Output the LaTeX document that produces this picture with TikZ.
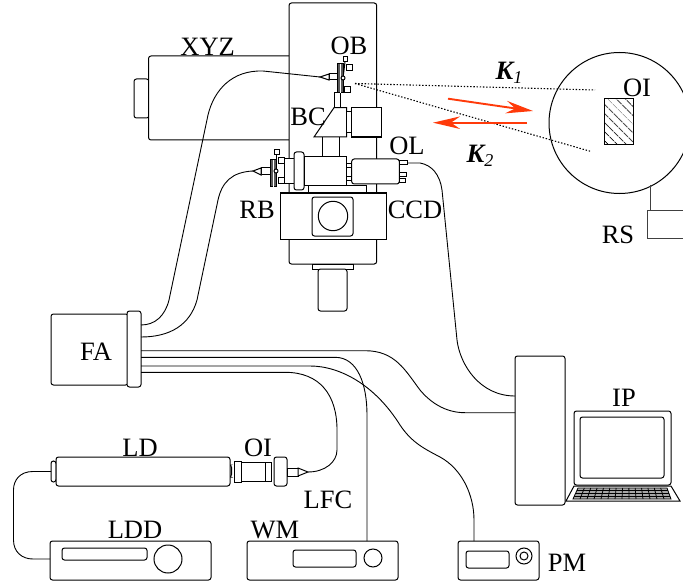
\documentclass[tikz,border=0pt]{standalone}
\usepackage{fontspec}
\setmainfont{Liberation Serif}
\usetikzlibrary{arrows.meta,patterns.meta,calc}
\tikzset{
  part/.style={draw=black,fill=white,line width=1pt,inner sep=0pt,outer sep=0pt,rounded corners=2.5pt},
  sharp/.style={rounded corners=0pt},
  fibre/.style={draw=black,line width=0.9pt},
  lab/.style={font=\fontsize{26.5}{26.5}\selectfont,inner sep=0pt,text=black},
  klab/.style={font=\fontsize{26.5}{26.5}\selectfont\bfseries\itshape,inner sep=0pt,text=black},
  ray/.style={draw=black,line width=1.1pt,dash pattern=on 1.4pt off 1.8pt},
  redarrow/.style={draw=beamred,line width=1.9pt,-{Stealth[length=27pt,width=12.5pt,inset=9pt]}},
}
\definecolor{beamred}{HTML}{FF3A0A}
\newcommand\bx[6][]{%
  \pgfmathsetmacro\bxCx{(#3+#5)/2}\pgfmathsetmacro\bxCy{(#4+#6)/2}%
  \pgfmathsetmacro\bxW{abs(#5-(#3))}\pgfmathsetmacro\bxH{abs(#6-(#4))}%
  \node[part,minimum width=\bxW pt,minimum height=\bxH pt,#1] (#2) at (\bxCx,\bxCy) {};}
\begin{document}
\begin{tikzpicture}[x=1pt,y=-1pt]
\clip (0,0) rectangle (683,583);
\fill[white] (0,0) rectangle (683,583);

% microscope body
\bx{knob}{134}{79}{149}{118}
\bx{xyz}{148.5}{56}{295}{140}
\bx{column}{289}{3}{376.7}{264}
\bx[sharp]{foot}{312}{264}{353}{269}
\bx{tube}{318}{269}{347}{311}

% beam splitter cube and camera
\draw[line width=1pt] (322,137) -- (322,157) (339,137) -- (339,157);
\bx[sharp]{stem}{334.5}{93}{340.5}{108}
\filldraw[part,sharp] (314,137) -- (334,107.7) -- (346.7,107.7) -- (346.7,137) -- cycle;
\bx[sharp]{neck}{346.7}{112}{351.7}{133}
\bx[sharp,line width=1.3pt]{cam}{351.7}{107.7}{381.7}{137}

% input assembly
\bx[sharp]{strip}{308}{186}{366}{193}
\bx[sharp]{rbtube}{284}{159}{294}{184}
\bx{rbflange}{294}{152}{304}{190}
\bx[sharp]{rbbody}{304}{156.7}{346.7}{186}
\bx[sharp]{lnka}{346.7}{164}{351.7}{168}
\bx[sharp]{lnkb}{346.7}{177}{351.7}{181}
\bx{ol}{351.7}{159}{399.3}{184}
\bx[sharp]{ola}{399.3}{160.7}{407}{165}
\bx[sharp]{olb}{399.3}{172.7}{406}{177}
\bx[sharp]{olc}{399.3}{178.5}{405}{183}
\bx[sharp]{ccd}{280}{193}{386}{239}
\bx{ccdin}{312}{197}{353}{236}
\node[part,sharp,circle,minimum size=29.4pt] (lens) at (333,216) {};

% mount at RB
\bx[sharp]{rbta}{274}{150}{279}{155}
\draw[line width=1pt] (276.5,155) -- (276.5,171);
\bx[sharp]{rbqa}{278}{158}{284}{164}
\bx[sharp]{rbqb}{278}{178}{284}{184}
\bx[sharp]{rbcon}{261}{168}{270}{175}
\filldraw[part,sharp] (261,168) -- (253,171) -- (261,175) -- cycle;
\bx[sharp,fill=black!65]{rbdisk}{270}{160}{276}{187}
\draw[line width=0.7pt,white] (273,160) -- (273,187);
\node[part,sharp,circle,minimum size=4pt] (rbpin) at (276,171) {};

% mount at OB
\bx[sharp]{obta}{343}{57}{347}{62}
\draw[line width=1pt] (345,62) -- (343,78);
\bx[sharp]{obqa}{346}{65}{352}{71}
\bx[sharp]{obqb}{344}{87}{350}{93}
\bx[sharp]{obcon}{329}{74}{337}{80}
\bx[sharp,fill=black!65]{obdisk}{337}{64}{343}{93}
\draw[line width=0.7pt,white] (340,64) -- (340,93);
\node[part,sharp,circle,minimum size=4pt] (obpin) at (343,78) {};
\filldraw[part,sharp] (329,74) -- (320,77) -- (329,80) -- cycle;

% fibre array
\bx{fa}{51}{314}{128}{385}
\bx{facol}{127}{311}{141}{387}
\coordinate (f1) at (141,325);
\coordinate (f2) at (141,337);
\coordinate (f3) at (141,350.7);
\coordinate (f4) at (141,357.3);
\coordinate (f5) at (141,366);
\coordinate (f6) at (141,372.3);
\coordinate (obtip) at (320,77);
\coordinate (rbtip) at (253,171);

% bench
\bx{ldcapl}{51}{461}{56}{482}
\bx{ldcapr}{228}{465}{231.5}{477}
\bx{ld}{56}{457}{230}{486}
\bx[sharp]{oia}{234}{461}{241}{482}
\bx[sharp]{oib}{241}{462}{271}{481}
\draw[line width=1pt] (265,462) -- (265,481);
\bx{lfcf}{274}{457}{287}{486}
\bx[sharp]{lfcr}{287}{468}{298}{476}
\filldraw[part,sharp] (298,468) -- (308,472) -- (298,476) -- cycle;
\coordinate (lfctip) at (308,472);

\bx{ldd}{50}{541}{211}{580}
\bx{lddslot}{62}{548}{147}{560}
\node[part,sharp,circle,minimum size=28pt] (lddknob) at (168,559) {};
\bx{wm}{247}{541}{398}{580}
\bx{wmslot}{293}{550}{356}{567}
\node[part,sharp,circle,minimum size=18pt] (wmknob) at (373,558) {};
\bx{pm}{458}{541}{539}{580}
\bx{pmslot}{466}{551}{509}{568}
\node[part,sharp,circle,minimum size=16pt] (pmo) at (524,556) {};
\node[part,sharp,circle,minimum size=8pt] (pmi) at (524,556) {};

% computer
\bx{pc}{515}{356}{565}{505}
\filldraw[part,sharp] (574,486) -- (566,501) -- (680,501) -- (671,486) -- cycle;
\filldraw[draw=black,fill=black!35,line width=0.8pt] (578,488) -- (667,488) -- (671,499) -- (573,499) -- cycle;
\foreach \i in {1,...,3}{
  \pgfmathsetmacro\yy{488+\i*2.75}
  \pgfmathsetmacro\xa{578-5*\i*2.75/11}
  \pgfmathsetmacro\xb{667+4*\i*2.75/11}
  \draw[line width=0.6pt] (\xa,\yy) -- (\xb,\yy);}
\foreach \i in {1,...,13}{
  \pgfmathsetmacro\xa{578+\i*89/14}
  \pgfmathsetmacro\xb{573+\i*98/14}
  \draw[line width=0.8pt] (\xa,488) -- (\xb,499);}
\bx{lap}{574}{411}{671}{485}
\bx{screen}{580}{417}{664}{478}

% object
\node[draw=black,fill=white,line width=1pt,circle,inner sep=0pt,minimum size=141pt] (obj) at (619.5,123) {};
\node[draw=black,line width=1pt,inner sep=0pt,minimum width=29pt,minimum height=46pt,
  pattern={Lines[angle=-45,distance=6.5pt,line width=1pt]}] (oirect) at (619.2,122) {};
\draw[line width=1pt,black!75] (650,185) -- (650,210);
\node[draw=black!75,fill=white,line width=1pt,inner sep=0pt,minimum width=50pt,minimum height=28pt,anchor=north west] (rs) at (647.3,210) {};

% fibres
\draw[fibre] (obtip) -- (263,71) .. controls (232,70) and (214,90) .. (208,115) -- (169,300) .. controls (165,316) and (155,325) .. (f1);
\draw[fibre] (rbtip) .. controls (232,172) and (222,182) .. (218,200) -- (197,300) .. controls (190,325) and (170,337) .. (f2);
\draw[fibre] (f3) -- (365,350.7) .. controls (395,350.7) and (405,370) .. (420,390) .. controls (430,402) and (445,412.7) .. (465,412.7) -- (pc.west |- 0,412.7);
\draw[fibre] (f4) -- (335,357.3) .. controls (358,357.3) and (367,385) .. (367,415) -- (367,541);
\draw[fibre] (f5) -- (310,366) .. controls (340,366) and (375,385) .. (400,425) .. controls (412,443) and (425,449) .. (440,457) .. controls (462,469) and (474,495) .. (474,520) -- (474,541);
\draw[fibre] (f6) -- (285,372.3) .. controls (320,372.3) and (337,395) .. (337,430) -- (337,450) .. controls (337,462) and (325,472) .. (lfctip);
\draw[fibre] (407,163) -- (420,163) .. controls (432,165) and (440,175) .. (442,190) -- (457,340) .. controls (460,365) and (480,396) .. (pc.west |- 0,396);
\draw[fibre] (ldcapl.west) -- (33,471.5) .. controls (20,471.5) and (13.5,480) .. (13.5,490) -- (13.5,540) .. controls (13.5,552) and (22,559) .. (33,559) -- (ldd.west |- 0,559);

% rays and beams
\coordinate (focus) at (355,83.5);
\coordinate (k1end) at (595,90);
\coordinate (k2end) at (591.7,151.7);
\draw[ray] (focus) -- (k1end);
\draw[ray] (focus) -- (k2end);
\coordinate (ra) at (448,98.7);
\coordinate (rb) at (533,111);
\coordinate (rc) at (527,122.7);
\coordinate (rd) at (433,122.7);
\draw[redarrow] (ra) -- (rb);
\draw[redarrow] (rc) -- (rd);

% labels
\node[lab] (lxyz) at (207.7,46.5) {XYZ};
\node[lab] (lob) at (349,46) {OB};
\node[lab] (lbc) at (308,117) {BC};
\node[lab] (lol) at (407,146) {OL};
\node[lab] (lrb) at (257,210) {RB};
\node[lab] (lccd) at (415,210) {CCD};
\node[lab] (lfa) at (96,352) {FA};
\node[lab] (lld) at (140,448) {LD};
\node[lab] (loi) at (258,448) {OI};
\node[lab] (llfc) at (328,500) {LFC};
\node[lab] (lldd) at (135,530) {LDD};
\node[lab] (lwm) at (275,530) {WM};
\node[lab] (lpm) at (567,563) {PM};
\node[lab] (lip) at (624,398) {IP};
\node[lab] (loi2) at (637,88) {OI};
\node[lab] (lrs) at (618,235) {RS};
\node[klab] (k1) at (509,73) {K\raisebox{-4pt}{\fontsize{18}{18}\selectfont\mdseries 1}};
\node[klab] (k2) at (480,156) {K\raisebox{-4pt}{\fontsize{18}{18}\selectfont\mdseries 2}};
\end{tikzpicture}
\end{document}
